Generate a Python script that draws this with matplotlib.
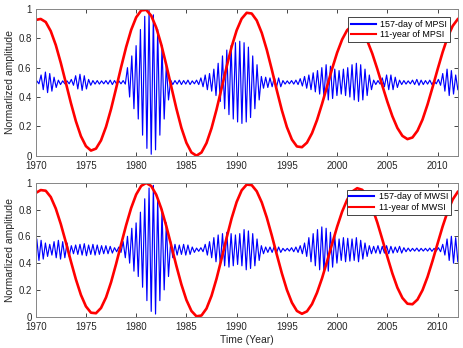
import numpy as np
import matplotlib
matplotlib.use("Agg")
import matplotlib.pyplot as plt

plt.rcParams['font.family'] = ['Liberation Sans', 'DejaVu Sans']

# red 11-year curves, sampled every half year from 1970 to 2012
years = np.arange(1970, 2012.01, 0.5)
red_mpsi = [0.925, 0.932, 0.911, 0.849, 0.754, 0.632, 0.497, 0.360, 0.235, 0.133,
            0.065, 0.035, 0.048, 0.104, 0.197, 0.318, 0.458, 0.603, 0.740, 0.857,
            0.943, 0.990, 0.994, 0.954, 0.873, 0.757, 0.618, 0.469, 0.322, 0.190,
            0.088, 0.022, 0.000, 0.022, 0.086, 0.187, 0.315, 0.459, 0.605, 0.742,
            0.854, 0.934, 0.974, 0.969, 0.922, 0.837, 0.722, 0.587, 0.445, 0.310,
            0.195, 0.110, 0.063, 0.058, 0.089, 0.153, 0.243, 0.353, 0.472, 0.592,
            0.702, 0.792, 0.856, 0.887, 0.884, 0.848, 0.784, 0.696, 0.591, 0.478,
            0.368, 0.269, 0.189, 0.135, 0.113, 0.124, 0.170, 0.246, 0.349, 0.466,
            0.588, 0.705, 0.808, 0.884, 0.930]
red_mwsi = [0.923, 0.945, 0.940, 0.893, 0.807, 0.691, 0.556, 0.414, 0.279, 0.163,
            0.077, 0.030, 0.026, 0.065, 0.144, 0.257, 0.393, 0.540, 0.683, 0.811,
            0.912, 0.976, 0.998, 0.975, 0.910, 0.807, 0.676, 0.529, 0.380, 0.241,
            0.125, 0.043, 0.003, 0.009, 0.061, 0.156, 0.284, 0.433, 0.588, 0.734,
            0.856, 0.943, 0.986, 0.982, 0.936, 0.853, 0.740, 0.606, 0.463, 0.324,
            0.201, 0.105, 0.043, 0.022, 0.040, 0.094, 0.179, 0.287, 0.413, 0.543,
            0.671, 0.784, 0.873, 0.934, 0.959, 0.947, 0.897, 0.813, 0.703, 0.577,
            0.447, 0.323, 0.217, 0.140, 0.097, 0.093, 0.128, 0.198, 0.297, 0.417,
            0.546, 0.673, 0.785, 0.874, 0.931]

# blue 157-day curves: amplitude about 0.5 for each 157-day cycle
period = 157 / 365.25
amp_mpsi = [0.01, 0.05, 0.07, 0.06, 0.035, 0.015, 0.01, 0.01, 0.02, 0.045,
            0.055, 0.045, 0.02, 0.012, 0.012, 0.01, 0.012, 0.015, 0.012, 0.01,
            0.012, 0.10, 0.18, 0.25, 0.36, 0.45, 0.49, 0.46, 0.36, 0.25,
            0.12, 0.015, 0.012, 0.015, 0.012, 0.015, 0.01, 0.015, 0.03, 0.05,
            0.06, 0.09, 0.13, 0.18, 0.22, 0.25, 0.27, 0.28, 0.27, 0.24,
            0.18, 0.12, 0.04, 0.035, 0.03, 0.035, 0.03, 0.012, 0.01, 0.012,
            0.015, 0.025, 0.04, 0.05, 0.065, 0.08, 0.10, 0.12, 0.11, 0.09,
            0.08, 0.09, 0.10, 0.12, 0.13, 0.12, 0.09, 0.05, 0.015, 0.012,
            0.03, 0.05, 0.05, 0.035, 0.015, 0.012, 0.01, 0.015, 0.02, 0.015,
            0.012, 0.015, 0.01, 0.02, 0.06, 0.09, 0.08, 0.05]
amp_mwsi = [0.08, 0.07, 0.05, 0.04, 0.06, 0.07, 0.06, 0.05, 0.03, 0.035,
            0.04, 0.045, 0.035, 0.04, 0.035, 0.03, 0.03, 0.025, 0.015, 0.02,
            0.06, 0.10, 0.16, 0.20, 0.28, 0.38, 0.46, 0.48, 0.38, 0.30,
            0.20, 0.06, 0.04, 0.035, 0.04, 0.035, 0.02, 0.012, 0.015, 0.04,
            0.06, 0.09, 0.11, 0.12, 0.13, 0.12, 0.11, 0.12, 0.15, 0.14,
            0.12, 0.08, 0.03, 0.02, 0.02, 0.025, 0.02, 0.01, 0.01, 0.015,
            0.02, 0.03, 0.05, 0.09, 0.12, 0.15, 0.17, 0.16, 0.13, 0.10,
            0.08, 0.09, 0.085, 0.08, 0.09, 0.07, 0.05, 0.03, 0.025, 0.03,
            0.025, 0.03, 0.025, 0.02, 0.025, 0.015, 0.012, 0.01, 0.012, 0.01,
            0.01, 0.012, 0.01, 0.015, 0.04, 0.08, 0.10, 0.09]

yticks = [0, 0.2, 0.4, 0.6, 0.8, 1]
ytick_labels = ['0', '0.2', '0.4', '0.6', '0.8', '1']
xticks = [1970, 1975, 1980, 1985, 1990, 1995, 2000, 2005, 2010]


def blue_series(amps):
    t = [1970.0]
    v = [0.5]
    for k, a in enumerate(amps):
        t.append(1970 + (k + 0.25) * period)
        v.append(0.5 + a)
        t.append(1970 + (k + 0.75) * period)
        v.append(0.5 - a)
    return t, v


def panel(ax, amps, red, name, pad):
    bt, bv = blue_series(amps)
    ax.plot(bt, bv, color='#0000ff', lw=0.85, label='157-day of ' + name)
    ax.plot(years, red, color='#ff0000', lw=1.9, label='11-year of ' + name)
    ax.set_xlim(1970, 2012)
    ax.set_ylim(0, 1)
    ax.set_xticks(xticks)
    ax.set_yticks(yticks)
    ax.set_yticklabels(ytick_labels)
    ax.tick_params(direction='in', length=3, width=0.6, top=True, right=True,
                   labelsize=7, colors='#262626')
    ax.tick_params(axis='x', pad=4)
    ax.tick_params(axis='y', pad=3)
    for s in ax.spines.values():
        s.set_color('#868686')
        s.set_linewidth(0.7)
    ax.set_ylabel('Normarlized amplitude', fontsize=7.5, color='#262626', labelpad=2)
    leg = ax.legend(loc='upper right', fontsize=6.4, fancybox=False, framealpha=1,
                    edgecolor='#262626', handlelength=2.8, handletextpad=0.5,
                    borderpad=0.3, labelspacing=0.2, borderaxespad=pad)
    leg.get_frame().set_linewidth(0.6)
    for line in leg.get_lines():
        line.set_linewidth(1.5)


fig = plt.figure(figsize=(4.63, 3.48), dpi=100)
ax1 = fig.add_axes([0.0771, 0.5526, 0.9114, 0.4216])
ax2 = fig.add_axes([0.0771, 0.0899, 0.9114, 0.3851])

panel(ax1, amp_mpsi, red_mpsi, 'MPSI', 0.9)
panel(ax2, amp_mwsi, red_mwsi, 'MWSI', 0.8)
ax2.set_xlabel('Time (Year)', fontsize=7.5, color='#262626', labelpad=2)

fig.savefig('out.png', dpi=100)
